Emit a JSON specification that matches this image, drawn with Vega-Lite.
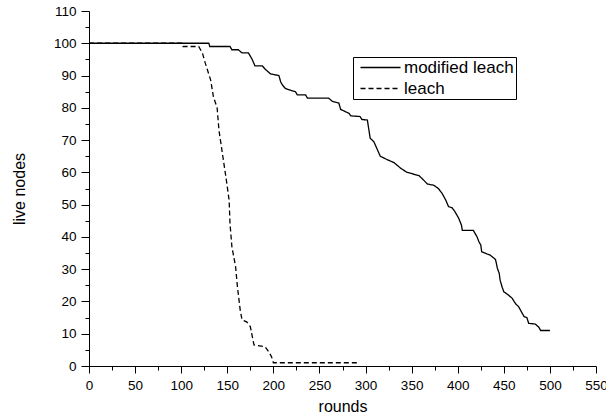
{
  "$schema": "https://vega.github.io/schema/vega-lite/v6.json",
  "width": 507,
  "height": 355,
  "autosize": "none",
  "padding": {"left": 89, "top": 11, "right": 10, "bottom": 53},
  "config": {
    "view": {"stroke": null},
    "font": "Liberation Sans",
    "axis": {
      "grid": false,
      "domainColor": "black",
      "domainWidth": 1,
      "tickColor": "black",
      "tickWidth": 1,
      "labelColor": "black",
      "titleColor": "black",
      "titleFontWeight": "normal",
      "labelFontSize": 13.5,
      "titleFontSize": 16,
      "labelFont": "Liberation Sans",
      "titleFont": "Liberation Sans"
    }
  },
  "data": {
    "values": [
      {"round": 0, "nodes": 100, "series": "modified leach"},
      {"round": 130, "nodes": 100, "series": "modified leach"},
      {"round": 131, "nodes": 99, "series": "modified leach"},
      {"round": 153, "nodes": 99, "series": "modified leach"},
      {"round": 155, "nodes": 98, "series": "modified leach"},
      {"round": 162, "nodes": 98, "series": "modified leach"},
      {"round": 166, "nodes": 97, "series": "modified leach"},
      {"round": 173, "nodes": 97, "series": "modified leach"},
      {"round": 177, "nodes": 95, "series": "modified leach"},
      {"round": 180, "nodes": 93, "series": "modified leach"},
      {"round": 188, "nodes": 93, "series": "modified leach"},
      {"round": 191, "nodes": 92, "series": "modified leach"},
      {"round": 197, "nodes": 90.5, "series": "modified leach"},
      {"round": 206, "nodes": 90, "series": "modified leach"},
      {"round": 208, "nodes": 88, "series": "modified leach"},
      {"round": 210, "nodes": 87, "series": "modified leach"},
      {"round": 213, "nodes": 86, "series": "modified leach"},
      {"round": 218, "nodes": 85.5, "series": "modified leach"},
      {"round": 224, "nodes": 85, "series": "modified leach"},
      {"round": 226, "nodes": 84, "series": "modified leach"},
      {"round": 235, "nodes": 84, "series": "modified leach"},
      {"round": 237, "nodes": 83, "series": "modified leach"},
      {"round": 260, "nodes": 83, "series": "modified leach"},
      {"round": 264, "nodes": 82, "series": "modified leach"},
      {"round": 271, "nodes": 81.5, "series": "modified leach"},
      {"round": 273, "nodes": 79.5, "series": "modified leach"},
      {"round": 282, "nodes": 78.3, "series": "modified leach"},
      {"round": 284, "nodes": 77.5, "series": "modified leach"},
      {"round": 294, "nodes": 77.3, "series": "modified leach"},
      {"round": 296, "nodes": 76.4, "series": "modified leach"},
      {"round": 302, "nodes": 76.2, "series": "modified leach"},
      {"round": 305, "nodes": 70.6, "series": "modified leach"},
      {"round": 309, "nodes": 69.5, "series": "modified leach"},
      {"round": 316, "nodes": 65, "series": "modified leach"},
      {"round": 323, "nodes": 64, "series": "modified leach"},
      {"round": 331, "nodes": 63, "series": "modified leach"},
      {"round": 338, "nodes": 61.3, "series": "modified leach"},
      {"round": 345, "nodes": 60, "series": "modified leach"},
      {"round": 358, "nodes": 59, "series": "modified leach"},
      {"round": 363, "nodes": 57.6, "series": "modified leach"},
      {"round": 367, "nodes": 56.4, "series": "modified leach"},
      {"round": 374, "nodes": 56, "series": "modified leach"},
      {"round": 379, "nodes": 55, "series": "modified leach"},
      {"round": 383, "nodes": 53.5, "series": "modified leach"},
      {"round": 387, "nodes": 51.4, "series": "modified leach"},
      {"round": 390, "nodes": 49.4, "series": "modified leach"},
      {"round": 394, "nodes": 49, "series": "modified leach"},
      {"round": 397, "nodes": 47.8, "series": "modified leach"},
      {"round": 401, "nodes": 45.8, "series": "modified leach"},
      {"round": 404, "nodes": 43.7, "series": "modified leach"},
      {"round": 405, "nodes": 42, "series": "modified leach"},
      {"round": 417, "nodes": 42, "series": "modified leach"},
      {"round": 421, "nodes": 40, "series": "modified leach"},
      {"round": 423, "nodes": 38.5, "series": "modified leach"},
      {"round": 425, "nodes": 37.5, "series": "modified leach"},
      {"round": 426, "nodes": 35.4, "series": "modified leach"},
      {"round": 432, "nodes": 34.7, "series": "modified leach"},
      {"round": 435, "nodes": 34.4, "series": "modified leach"},
      {"round": 441, "nodes": 33, "series": "modified leach"},
      {"round": 443, "nodes": 30.3, "series": "modified leach"},
      {"round": 445, "nodes": 28.7, "series": "modified leach"},
      {"round": 446, "nodes": 26.6, "series": "modified leach"},
      {"round": 448, "nodes": 24.6, "series": "modified leach"},
      {"round": 450, "nodes": 23, "series": "modified leach"},
      {"round": 455, "nodes": 22, "series": "modified leach"},
      {"round": 459, "nodes": 21, "series": "modified leach"},
      {"round": 463, "nodes": 19.2, "series": "modified leach"},
      {"round": 466, "nodes": 18.4, "series": "modified leach"},
      {"round": 470, "nodes": 16.3, "series": "modified leach"},
      {"round": 472, "nodes": 15.3, "series": "modified leach"},
      {"round": 475, "nodes": 15, "series": "modified leach"},
      {"round": 477, "nodes": 13.2, "series": "modified leach"},
      {"round": 484, "nodes": 13, "series": "modified leach"},
      {"round": 488, "nodes": 12, "series": "modified leach"},
      {"round": 490, "nodes": 11, "series": "modified leach"},
      {"round": 500, "nodes": 11, "series": "modified leach"},
      {"round": 0, "nodes": 100, "series": "leach"},
      {"round": 101, "nodes": 100, "series": "leach"},
      {"round": 102, "nodes": 99, "series": "leach"},
      {"round": 119, "nodes": 99, "series": "leach"},
      {"round": 123, "nodes": 97, "series": "leach"},
      {"round": 126, "nodes": 94, "series": "leach"},
      {"round": 132, "nodes": 88.6, "series": "leach"},
      {"round": 135, "nodes": 83.4, "series": "leach"},
      {"round": 139, "nodes": 80, "series": "leach"},
      {"round": 141, "nodes": 73, "series": "leach"},
      {"round": 149, "nodes": 57.6, "series": "leach"},
      {"round": 152, "nodes": 51.4, "series": "leach"},
      {"round": 153, "nodes": 44, "series": "leach"},
      {"round": 155, "nodes": 37, "series": "leach"},
      {"round": 159, "nodes": 30.8, "series": "leach"},
      {"round": 161, "nodes": 24.6, "series": "leach"},
      {"round": 164, "nodes": 17.4, "series": "leach"},
      {"round": 166, "nodes": 14.3, "series": "leach"},
      {"round": 171, "nodes": 13.7, "series": "leach"},
      {"round": 175, "nodes": 12.2, "series": "leach"},
      {"round": 179, "nodes": 6.5, "series": "leach"},
      {"round": 191, "nodes": 6, "series": "leach"},
      {"round": 195, "nodes": 4.4, "series": "leach"},
      {"round": 198, "nodes": 2.9, "series": "leach"},
      {"round": 200, "nodes": 1, "series": "leach"},
      {"round": 293, "nodes": 1, "series": "leach"}
    ]
  },
  "mark": {"type": "line", "color": "black", "strokeWidth": 1.3},
  "encoding": {
    "x": {
      "field": "round",
      "type": "quantitative",
      "scale": {"domain": [0, 550], "nice": false},
      "axis": {
        "title": "rounds",
        "values": [0, 25, 50, 75, 100, 125, 150, 175, 200, 225, 250, 275, 300, 325, 350, 375, 400, 425, 450, 475, 500, 525, 550],
        "labelExpr": "datum.value % 50 === 0 ? datum.label : ''",
        "tickSize": {"condition": {"test": "datum.value % 50 === 0", "value": 7}, "value": 4},
        "labelPadding": 5,
        "labelFlush": false,
        "labelOverlap": false,
        "titlePadding": 7
      }
    },
    "y": {
      "field": "nodes",
      "type": "quantitative",
      "scale": {"domain": [0, 110], "nice": false},
      "axis": {
        "title": "live nodes",
        "values": [0, 5, 10, 15, 20, 25, 30, 35, 40, 45, 50, 55, 60, 65, 70, 75, 80, 85, 90, 95, 100, 105, 110],
        "labelExpr": "datum.value % 10 === 0 ? datum.label : ''",
        "tickSize": {"condition": {"test": "datum.value % 10 === 0", "value": 8}, "value": 4},
        "labelPadding": 5,
        "labelFlush": false,
        "labelOverlap": false,
        "titlePadding": 26
      }
    },
    "strokeDash": {
      "field": "series",
      "type": "nominal",
      "scale": {"domain": ["modified leach", "leach"], "range": [[1, 0], [5, 3]]},
      "legend": {
        "title": null,
        "orient": "none",
        "legendX": 264,
        "legendY": 46,
        "strokeColor": "black",
        "fillColor": "white",
        "padding": 2,
        "rowPadding": 3,
        "symbolType": "M-4,0H4",
        "symbolSize": 100,
        "symbolOffset": 17,
        "symbolStrokeColor": "black",
        "symbolStrokeWidth": 1.3,
        "labelFontSize": 17,
        "labelColor": "black",
        "labelOffset": 15,
        "labelFont": "Liberation Sans"
      }
    }
  }
}
